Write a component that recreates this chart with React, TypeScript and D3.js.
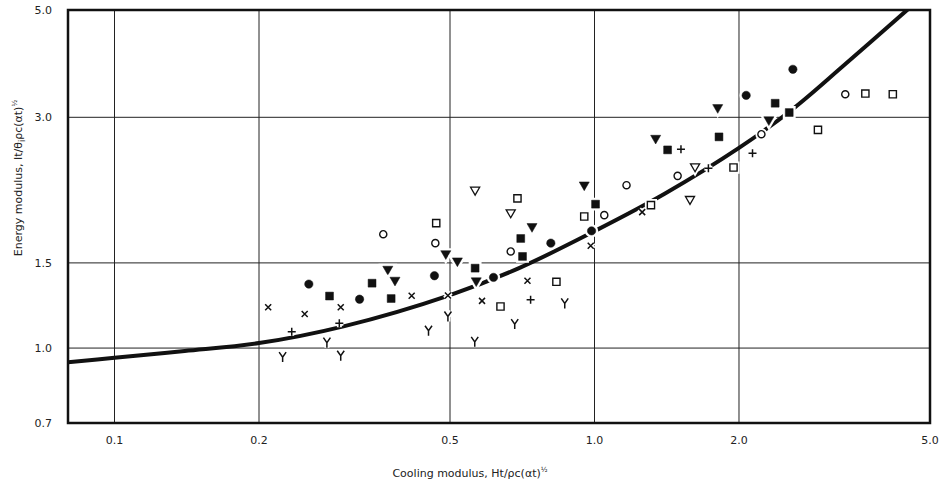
import React from "react";
import * as d3 from "d3";

const W = 941;
const H = 484;
const PLOT = { left: 68, right: 930, top: 10, bottom: 423 };

// axis ticks
const xTickValues = [0.1, 0.2, 0.5, 1.0, 2.0, 5.0];
const xTickLabels = ["0.1", "0.2", "0.5", "1.0", "2.0", "5.0"];
const yTickValues = [0.7, 1.0, 1.5, 3.0, 5.0];
const yTickLabels = ["0.7", "1.0", "1.5", "3.0", "5.0"];
const xGridValues = [0.1, 0.2, 0.5, 1.0, 2.0];
const yGridValues = [1.0, 1.5, 3.0];

// correlation curve
const curveX = [0.08, 0.1, 0.14, 0.2, 0.3, 0.5, 0.7, 1.0, 1.4, 2.0, 2.6, 3.3, 4.5, 4.7];
const curveY = [0.935, 0.955, 0.986, 1.024, 1.109, 1.287, 1.467, 1.745, 2.085, 2.593, 3.131, 3.833, 5.02, 5.22];

// measured points, [cooling modulus, energy modulus]
const filledCircles = [
  [0.254, 1.356], [0.324, 1.262], [0.464, 1.411], [0.616, 1.4],
  [0.811, 1.648], [0.986, 1.747], [2.07, 3.33], [2.59, 3.77],
];
const openCircles = [
  [0.363, 1.72], [0.466, 1.648], [0.669, 1.584], [1.048, 1.883],
  [1.166, 2.172], [1.49, 2.27], [2.227, 2.768], [3.33, 3.348],
];
const filledSquares = [
  [0.2805, 1.281], [0.344, 1.362], [0.377, 1.266], [0.564, 1.463],
  [0.702, 1.685], [0.708, 1.547], [1.005, 1.984], [1.42, 2.569],
  [1.817, 2.733], [2.379, 3.208], [2.545, 3.069],
];
const openSquares = [
  [0.468, 1.813], [0.637, 1.219], [0.691, 2.039], [0.833, 1.371],
  [0.952, 1.871], [1.311, 1.975], [1.948, 2.362], [2.921, 2.825],
  [3.667, 3.359], [4.183, 3.348],
];
const filledTriangles = [
  [0.371, 1.456], [0.384, 1.382], [0.49, 1.568], [0.518, 1.515],
  [0.567, 1.378], [0.741, 1.784], [0.952, 2.175], [1.341, 2.716],
  [1.806, 3.143], [2.308, 2.966],
];
const openTriangles = [
  [0.564, 2.124], [0.669, 1.907], [1.581, 2.032], [1.62, 2.374],
];
const crosses = [
  [0.209, 1.214], [0.249, 1.176], [0.296, 1.214], [0.416, 1.283],
  [0.495, 1.284], [0.583, 1.252], [0.725, 1.378], [0.982, 1.627],
  [1.257, 1.91],
];
const pluses = [
  [0.234, 1.081], [0.294, 1.126], [0.736, 1.258], [1.514, 2.577],
  [1.727, 2.354], [2.134, 2.528],
];
const yMarks = [
  [0.224, 0.958], [0.277, 1.026], [0.296, 0.964], [0.451, 1.086],
  [0.495, 1.162], [0.563, 1.03], [0.682, 1.121], [0.867, 1.237],
];

const x = d3.scaleLog().domain([0.08, 5.0]).range([PLOT.left, PLOT.right]);
const y = d3.scaleLog().domain([0.7, 5.0]).range([PLOT.bottom, PLOT.top]);

const crossPath = "M-3,-3L3,3M-3,3L3,-3";
const plusPath = "M-4,0L4,0M0,-4L0,4";
const yPath = "M-3.5,-5L0,0L3.5,-5M0,0L0,5";

const INK = "#111";

type Spec = { data: number[][]; d: string; fill: string; stroke: string; sw: number; rot?: number };

const markerSets: Spec[] = [
  { data: filledCircles, d: d3.symbol(d3.symbolCircle, 55)(), fill: INK, stroke: INK, sw: 0.5 },
  { data: openCircles, d: d3.symbol(d3.symbolCircle, 40)(), fill: "#fff", stroke: INK, sw: 1.4 },
  { data: filledSquares, d: d3.symbol(d3.symbolSquare, 62)(), fill: INK, stroke: INK, sw: 0.5 },
  { data: openSquares, d: d3.symbol(d3.symbolSquare, 52)(), fill: "#fff", stroke: INK, sw: 1.4 },
  { data: filledTriangles, d: d3.symbol(d3.symbolTriangle, 44)(), fill: INK, stroke: INK, sw: 0.5, rot: 180 },
  { data: openTriangles, d: d3.symbol(d3.symbolTriangle, 36)(), fill: "#fff", stroke: INK, sw: 1.3, rot: 180 },
  { data: crosses, d: crossPath, fill: "none", stroke: INK, sw: 1.5 },
  { data: pluses, d: plusPath, fill: "none", stroke: INK, sw: 1.5 },
  { data: yMarks, d: yPath, fill: "none", stroke: INK, sw: 1.5 },
];

const line = d3
  .line<number>()
  .x((d, i) => x(curveX[i]))
  .y((d) => y(d))
  .curve(d3.curveCatmullRom.alpha(0.5));

const FONT = "'DejaVu Sans', Lato, sans-serif";

export default function App() {
  return (
    <svg width={W} height={H} style={{ display: "block", position: "absolute", left: 0, top: 0, background: "#fff" }}>
      <defs>
        <clipPath id="plotClip">
          <rect x={PLOT.left} y={PLOT.top} width={PLOT.right - PLOT.left} height={PLOT.bottom - PLOT.top} />
        </clipPath>
      </defs>

      {/* grid */}
      {xGridValues.map((v) => (
        <line key={"gx" + v} x1={x(v)} x2={x(v)} y1={PLOT.top} y2={PLOT.bottom} stroke="#222" strokeWidth={1} />
      ))}
      {yGridValues.map((v) => (
        <line key={"gy" + v} x1={PLOT.left} x2={PLOT.right} y1={y(v)} y2={y(v)} stroke="#222" strokeWidth={1} />
      ))}

      {/* curve */}
      <path d={line(curveY) || ""} fill="none" stroke={INK} strokeWidth={4} clipPath="url(#plotClip)" />

      {/* markers: white halo first so the lines break around them */}
      {markerSets.map((s, si) =>
        s.data.map((p, i) => (
          <g key={si + "-" + i} transform={`translate(${x(p[0])},${y(p[1])})${s.rot ? ` rotate(${s.rot})` : ""}`}>
            <path d={s.d} fill="#fff" stroke="#fff" strokeWidth={5} />
            <path d={s.d} fill={s.fill} stroke={s.stroke} strokeWidth={s.sw} />
          </g>
        ))
      )}

      {/* frame */}
      <rect
        x={PLOT.left}
        y={PLOT.top}
        width={PLOT.right - PLOT.left}
        height={PLOT.bottom - PLOT.top}
        fill="none"
        stroke={INK}
        strokeWidth={2.5}
      />

      {/* tick labels */}
      {xTickValues.map((v, i) => (
        <text key={"xl" + v} x={x(v)} y={444} textAnchor="middle" fontFamily={FONT} fontSize={11} fill="#222">
          {xTickLabels[i]}
        </text>
      ))}
      {yTickValues.map((v, i) => (
        <text key={"yl" + v} x={52} y={y(v) + 4} textAnchor="end" fontFamily={FONT} fontSize={11} fill="#222">
          {yTickLabels[i]}
        </text>
      ))}

      {/* axis titles */}
      <text x={470} y={477} textAnchor="middle" fontFamily={FONT} fontSize={11} fill="#222">
        Cooling modulus, Ht/ρc(αt)
        <tspan dy={-5} fontSize={7}>½</tspan>
      </text>
      <text transform="translate(22,178) rotate(-90)" textAnchor="middle" fontFamily={FONT} fontSize={11} fill="#222">
        Energy modulus, It/θ
        <tspan dy={3} fontSize={8}>i</tspan>
        <tspan dy={-3}>ρc(αt)</tspan>
        <tspan dy={-5} fontSize={7}>½</tspan>
      </text>
    </svg>
  );
}
